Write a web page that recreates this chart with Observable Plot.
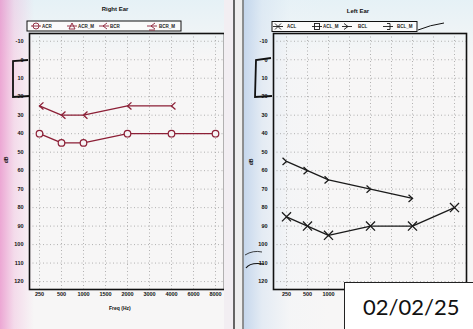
<!DOCTYPE html>
<html><head><meta charset="utf-8">
<script src="https://cdn.jsdelivr.net/npm/d3@7"></script>
<script src="https://cdn.jsdelivr.net/npm/@observablehq/plot@0.6"></script>
<style>
html,body{margin:0;padding:0}
body{width:473px;height:329px;position:relative;overflow:hidden;font-family:"Liberation Sans",Arial,sans-serif;
background:
 linear-gradient(to right, rgba(232,140,200,0.75) 0px, rgba(240,185,220,0.45) 14px, rgba(255,255,255,0) 34px),
 linear-gradient(to right, rgba(0,0,0,0) 243px, rgba(190,210,235,0.85) 244px, rgba(215,228,242,0.6) 262px, rgba(235,242,248,0.2) 290px, rgba(0,0,0,0) 330px),
 linear-gradient(to bottom, rgba(225,240,246,0.8) 0px, rgba(240,247,250,0) 60px),
 #f7f6f6;}
.abs{position:absolute}
.title{position:absolute;font-weight:bold;font-size:6px;transform:translateX(-50%);white-space:nowrap;color:#111}
.lab{position:absolute;font-weight:bold;font-size:5px;color:#111;white-space:nowrap}
#date{position:absolute;left:344px;top:282px;width:140px;height:60px;background:#fff;border:1px solid #222;box-sizing:border-box}
#date span{position:absolute;left:18px;top:10px;font-family:Lato,"Open Sans",sans-serif;font-size:22px;color:#111}
</style>
</head><body>
<div id="rightPlot" class="abs" style="left:0;top:0"></div>
<div id="leftPlot" class="abs" style="left:244px;top:0"></div>
<div class="title" style="left:115px;top:6px">Right Ear</div>
<div class="title" style="left:358px;top:8px">Left Ear</div>
<div class="lab" style="left:109px;top:305px">Freq (Hz)</div>
<div class="lab" style="left:3px;top:157px;transform:rotate(-90deg)">dB</div>
<div class="lab" style="left:248px;top:159px;transform:rotate(-90deg)">dB</div>
<svg id="deco" class="abs" style="left:0;top:0" width="473" height="329"></svg>
<div id="date"><span>02/02/25</span></div>
<script>
// ---- data ----
const freqs = ["250","500","1000","1500","2000","3000","4000","6000","8000"];
const leftVisibleFreqLabels = ["250","500","1000"]; // the rest are hidden under the date label
const dbTicks = [-10,0,10,20,30,40,50,60,70,80,90,100,110,120];

const acrFreq = ["250","500","1000","2000","4000","8000"];
const acrDb   = [40,45,45,40,40,40];
const bcrFreq = ["250","500","1000","2000","4000"];
const bcrDb   = [25,30,30,25,25];

const aclFreq = ["250","500","1000","2000","4000","8000"];
const aclDb   = [85,90,95,90,90,80];
const bclFreq = ["250","500","1000","2000","4000"];
const bclDb   = [55,60,65,70,75];

const rightLegend = ["ACR","ACR_M","BCR","BCR_M"];
const leftLegend  = ["ACL","ACL_M","BCL","BCL_M"];

const RED = "#8c1f36", BLK = "#1a1a1a";

// custom chevron symbols: tip at the data point
const chevron = dir => ({draw(ctx, size){
  const r = Math.sqrt(size / Math.PI);
  ctx.moveTo(dir * r * 1.1, -r); ctx.lineTo(0, 0); ctx.lineTo(dir * r * 1.1, r);
}});
const chevL = chevron(1), chevR = chevron(-1);

const zip = (xs, ys) => xs.map((f, i) => ({f, db: ys[i]}));
const acr = zip(acrFreq, acrDb), bcr = zip(bcrFreq, bcrDb);
const acl = zip(aclFreq, aclDb), bcl = zip(bclFreq, bclDb);

function audiogram({width, marginLeft, marginRight, padding, xticks, marks}) {
  return Plot.plot({
    width, height: 329,
    marginLeft, marginRight, marginTop: 33, marginBottom: 40,
    style: {background: "transparent", fontSize: "5.5px", fontWeight: "bold", fontFamily: "Liberation Sans, Arial, sans-serif", color: "#111"},
    x: {type: "point", domain: freqs, padding, ticks: xticks, tickSize: 0, tickPadding: 3, label: null},
    y: {domain: [-14.2, 124.3], reverse: true, ticks: dbTicks, tickSize: 0, tickPadding: 6, label: null, tickFormat: d => String(d)},
    marks: [
      Plot.ruleY(dbTicks, {stroke: "#a0a0a0", strokeDasharray: "1,2.5", strokeWidth: 0.8}),
      Plot.ruleX(freqs, {stroke: "#a0a0a0", strokeDasharray: "1,2.5", strokeWidth: 0.8}),
      ...marks,
      Plot.frame({stroke: "#111", strokeWidth: 1.6})
    ]
  });
}

const right = audiogram({
  width: 232, marginLeft: 29, marginRight: 8, padding: 0.41, xticks: freqs,
  marks: [
    Plot.line(bcr, {x: "f", y: "db", stroke: RED, strokeWidth: 1.3}),
    Plot.dot(bcr, {x: "f", y: "db", symbol: chevL, r: 3.6, stroke: RED, fill: "none", strokeWidth: 1.3}),
    Plot.line(acr, {x: "f", y: "db", stroke: RED, strokeWidth: 1.3}),
    Plot.dot(acr, {x: "f", y: "db", symbol: "circle", r: 3.3, stroke: RED, fill: "#f6f4f5", strokeWidth: 1.2})
  ]
});
document.getElementById("rightPlot").append(right);

const left = audiogram({
  width: 229, marginLeft: 29, marginRight: 7, padding: 0.5, xticks: leftVisibleFreqLabels,
  marks: [
    Plot.line(bcl, {x: "f", y: "db", stroke: BLK, strokeWidth: 1.3}),
    Plot.dot(bcl, {x: "f", y: "db", symbol: chevR, r: 3.6, stroke: BLK, fill: "none", strokeWidth: 1.3}),
    Plot.line(acl, {x: "f", y: "db", stroke: BLK, strokeWidth: 1.3}),
    Plot.dot(acl, {x: "f", y: "db", symbol: "times", r: 4.2, stroke: BLK, strokeWidth: 1.3})
  ]
});
document.getElementById("leftPlot").append(left);

// ---- legends & decorations ----
const deco = d3.select("#deco");
function legend(x0, x1, y, color, labels, iconX, labelX, icons) {
  deco.append("rect").attr("x", x0).attr("y", y).attr("width", x1 - x0).attr("height", 10)
    .attr("fill", "#fafafa").attr("stroke", "#111").attr("stroke-width", 1);
  labels.forEach((lab, i) => {
    const cx = iconX[i], cy = y + 5;
    const g = deco.append("g").attr("stroke", color).attr("fill", "none").attr("stroke-width", 0.9);
    g.append("line").attr("x1", cx - 5).attr("x2", cx + 5).attr("y1", cy).attr("y2", cy);
    const t = icons[i];
    if (t === "circle") g.append("circle").attr("cx", cx).attr("cy", cy).attr("r", 3);
    if (t === "tri") g.append("path").attr("d", `M${cx-3},${cy+3}L${cx},${cy-3}L${cx+3},${cy+3}Z`);
    if (t === "lt") g.append("path").attr("d", `M${cx+3},${cy-3}L${cx-1},${cy}L${cx+3},${cy+3}`);
    if (t === "ltu") g.append("path").attr("d", `M${cx+3},${cy-3}L${cx-1},${cy}L${cx+3},${cy+3}M${cx-3},${cy+4}L${cx+3},${cy+4}`);
    if (t === "x") g.append("path").attr("d", `M${cx-3},${cy-3}L${cx+3},${cy+3}M${cx-3},${cy+3}L${cx+3},${cy-3}`);
    if (t === "sq") g.append("rect").attr("x", cx - 2.5).attr("y", cy - 3).attr("width", 5).attr("height", 6);
    if (t === "gt") g.append("path").attr("d", `M${cx-3},${cy-3}L${cx+1},${cy}L${cx-3},${cy+3}`);
    if (t === "br") g.append("path").attr("d", `M${cx-1},${cy-3}L${cx+2},${cy-3}L${cx+2},${cy+3}L${cx-1},${cy+3}`);
    deco.append("text").attr("x", labelX[i]).attr("y", cy + 1.6).text(lab)
      .attr("font-size", 4.5).attr("font-weight", "bold").attr("fill", "#222")
      .attr("font-family", "Liberation Sans, Arial, sans-serif");
  });
}
legend(27, 181, 21, RED, rightLegend, [36, 72, 104, 152], [42, 78, 110, 159], ["circle", "tri", "lt", "ltu"]);
legend(272, 417, 21.5, BLK, leftLegend, [278, 317, 347, 388], [287, 323, 358, 397], ["x", "sq", "gt", "br"]);

// connector scribble from left legend
deco.append("path").attr("d", "M418,30 Q430,25 444,23").attr("stroke", "#111").attr("fill", "none").attr("stroke-width", 1);
// divider lines between the two sheets
deco.append("rect").attr("x", 224).attr("y", 0).attr("width", 9).attr("height", 329).attr("fill", "#f2eef2");
deco.append("line").attr("x1", 234).attr("x2", 234).attr("y1", 0).attr("y2", 329).attr("stroke", "#555").attr("stroke-width", 1.8);
deco.append("rect").attr("x", 235).attr("y", 0).attr("width", 7).attr("height", 329).attr("fill", "#eeeeee");
deco.append("line").attr("x1", 243).attr("x2", 243).attr("y1", 0).attr("y2", 329).attr("stroke", "#666").attr("stroke-width", 1.4);
// handwritten brackets
deco.append("path").attr("d", "M28,60 L13,61 L13,97 L30,96").attr("stroke", "#111").attr("fill", "none").attr("stroke-width", 1.8);
deco.append("path").attr("d", "M271,58 L256,60 L255,97 L272,96").attr("stroke", "#111").attr("fill", "none").attr("stroke-width", 1.8);
deco.append("path").attr("d", "M246,268 Q250,262 264,264").attr("stroke", "#111").attr("fill", "none").attr("stroke-width", 1.2);
deco.append("path").attr("d", "M245,255 Q253,250 262,252").attr("stroke", "#111").attr("fill", "none").attr("stroke-width", 0.8);
</script>
</body></html>
